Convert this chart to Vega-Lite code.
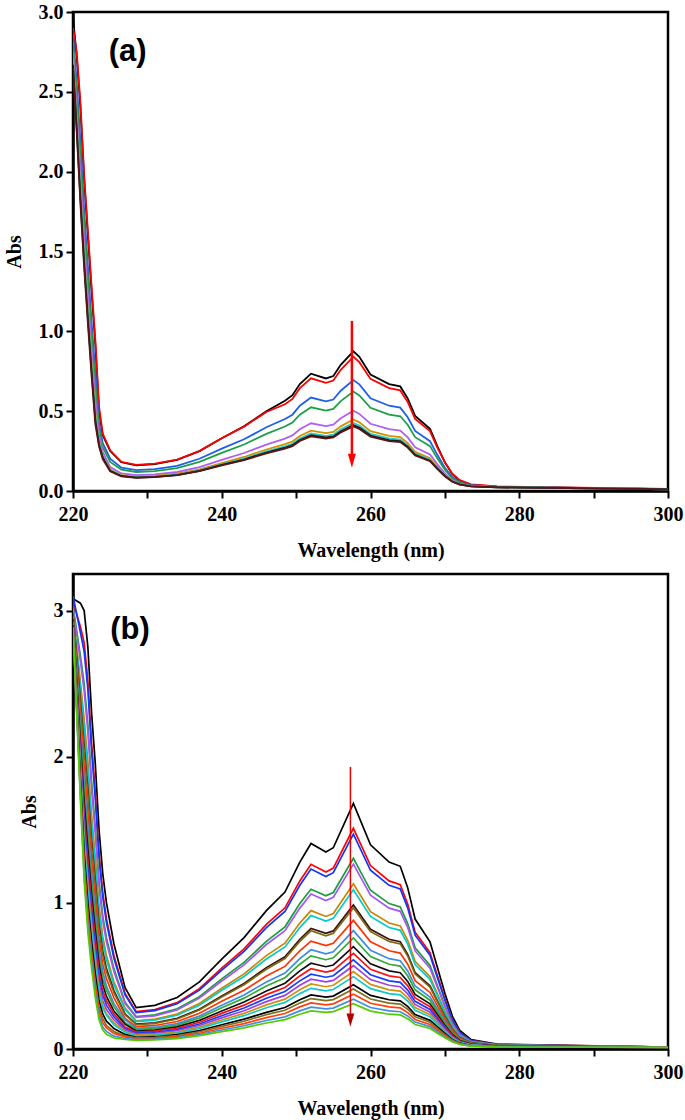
{"$schema":"https://vega.github.io/schema/vega-lite/v6.json",
"background":"white",
"padding":{"left":2,"top":0,"right":0,"bottom":0},
"spacing":10,
"resolve":{"scale":{"color":"independent"}},
"config":{"view":{"stroke":"black","strokeWidth":2.5},
"axis":{"grid":false,"domainColor":"black","domainWidth":2.5,"tickColor":"black","tickWidth":2,"tickSize":7,"labelFont":"Times New Roman, Liberation Serif, serif","labelFontSize":20,"labelFontWeight":"bold","labelColor":"black","titleFont":"Times New Roman, Liberation Serif, serif","titleFontSize":20,"titleFontWeight":"bold","titleColor":"black","labelPadding":3},
"axisX":{"labelPadding":6,"titlePadding":16},
"axisY":{"titlePadding":14}},
"datasets":{
"a":[
{"s":1,"w":220,"v":2.97},{"s":1,"w":220.5,"v":2.72},{"s":1,"w":221,"v":2.4},{"s":1,"w":221.5,"v":1.95},{"s":1,"w":222,"v":1.6},{"s":1,"w":222.5,"v":1.25},{"s":1,"w":223,"v":0.92},{"s":1,"w":223.5,"v":0.5},{"s":1,"w":224,"v":0.35},{"s":1,"w":225,"v":0.25},{"s":1,"w":226.5,"v":0.18},{"s":1,"w":228.5,"v":0.16},{"s":1,"w":231,"v":0.168},{"s":1,"w":234,"v":0.195},{"s":1,"w":237,"v":0.25},{"s":1,"w":240,"v":0.33},{"s":1,"w":243,"v":0.405},{"s":1,"w":246,"v":0.5},{"s":1,"w":248.5,"v":0.565},{"s":1,"w":249.5,"v":0.6},{"s":1,"w":250.5,"v":0.67},{"s":1,"w":252,"v":0.735},{"s":1,"w":254,"v":0.705},{"s":1,"w":255,"v":0.72},{"s":1,"w":256,"v":0.79},{"s":1,"w":257.7,"v":0.875},{"s":1,"w":258.5,"v":0.84},{"s":1,"w":260,"v":0.73},{"s":1,"w":262.5,"v":0.67},{"s":1,"w":264,"v":0.655},{"s":1,"w":265,"v":0.58},{"s":1,"w":266,"v":0.47},{"s":1,"w":268,"v":0.39},{"s":1,"w":269,"v":0.28},{"s":1,"w":270,"v":0.18},{"s":1,"w":271,"v":0.105},{"s":1,"w":272,"v":0.065},{"s":1,"w":273.5,"v":0.04},{"s":1,"w":277,"v":0.027},{"s":1,"w":300,"v":0.012},
{"s":2,"w":220,"v":2.9},{"s":2,"w":220.5,"v":2.75},{"s":2,"w":221,"v":2.43},{"s":2,"w":221.5,"v":1.98},{"s":2,"w":222,"v":1.63},{"s":2,"w":222.5,"v":1.28},{"s":2,"w":223,"v":0.95},{"s":2,"w":223.5,"v":0.53},{"s":2,"w":224,"v":0.36},{"s":2,"w":225,"v":0.255},{"s":2,"w":226.5,"v":0.183},{"s":2,"w":228.5,"v":0.164},{"s":2,"w":231,"v":0.171},{"s":2,"w":234,"v":0.197},{"s":2,"w":237,"v":0.25},{"s":2,"w":240,"v":0.33},{"s":2,"w":243,"v":0.403},{"s":2,"w":246,"v":0.495},{"s":2,"w":248.5,"v":0.543},{"s":2,"w":249.5,"v":0.577},{"s":2,"w":250.5,"v":0.644},{"s":2,"w":252,"v":0.706},{"s":2,"w":254,"v":0.678},{"s":2,"w":255,"v":0.692},{"s":2,"w":256,"v":0.759},{"s":2,"w":257.7,"v":0.841},{"s":2,"w":258.5,"v":0.807},{"s":2,"w":260,"v":0.702},{"s":2,"w":262.5,"v":0.644},{"s":2,"w":264,"v":0.63},{"s":2,"w":265,"v":0.558},{"s":2,"w":266,"v":0.452},{"s":2,"w":268,"v":0.375},{"s":2,"w":269,"v":0.27},{"s":2,"w":270,"v":0.18},{"s":2,"w":271,"v":0.108},{"s":2,"w":272,"v":0.068},{"s":2,"w":273.5,"v":0.042},{"s":2,"w":277,"v":0.029},{"s":2,"w":300,"v":0.013},
{"s":3,"w":220,"v":2.86},{"s":3,"w":220.5,"v":2.56},{"s":3,"w":221,"v":2.19},{"s":3,"w":221.5,"v":1.76},{"s":3,"w":222,"v":1.41},{"s":3,"w":222.5,"v":1.06},{"s":3,"w":223,"v":0.745},{"s":3,"w":223.5,"v":0.42},{"s":3,"w":224,"v":0.3},{"s":3,"w":225,"v":0.202},{"s":3,"w":226.5,"v":0.146},{"s":3,"w":228.5,"v":0.131},{"s":3,"w":231,"v":0.137},{"s":3,"w":234,"v":0.158},{"s":3,"w":237,"v":0.202},{"s":3,"w":240,"v":0.265},{"s":3,"w":243,"v":0.324},{"s":3,"w":246,"v":0.399},{"s":3,"w":248.5,"v":0.451},{"s":3,"w":249.5,"v":0.478},{"s":3,"w":250.5,"v":0.534},{"s":3,"w":252,"v":0.585},{"s":3,"w":254,"v":0.561},{"s":3,"w":255,"v":0.573},{"s":3,"w":256,"v":0.628},{"s":3,"w":257.7,"v":0.695},{"s":3,"w":258.5,"v":0.668},{"s":3,"w":260,"v":0.581},{"s":3,"w":262.5,"v":0.534},{"s":3,"w":264,"v":0.522},{"s":3,"w":265,"v":0.462},{"s":3,"w":266,"v":0.376},{"s":3,"w":268,"v":0.312},{"s":3,"w":269,"v":0.225},{"s":3,"w":270,"v":0.146},{"s":3,"w":271,"v":0.087},{"s":3,"w":272,"v":0.056},{"s":3,"w":273.5,"v":0.036},{"s":3,"w":277,"v":0.026},{"s":3,"w":300,"v":0.012},
{"s":4,"w":220,"v":2.81},{"s":4,"w":220.5,"v":2.49},{"s":4,"w":221,"v":2.1},{"s":4,"w":221.5,"v":1.68},{"s":4,"w":222,"v":1.33},{"s":4,"w":222.5,"v":0.99},{"s":4,"w":223,"v":0.67},{"s":4,"w":223.5,"v":0.39},{"s":4,"w":224,"v":0.275},{"s":4,"w":225,"v":0.182},{"s":4,"w":226.5,"v":0.133},{"s":4,"w":228.5,"v":0.119},{"s":4,"w":231,"v":0.124},{"s":4,"w":234,"v":0.143},{"s":4,"w":237,"v":0.182},{"s":4,"w":240,"v":0.239},{"s":4,"w":243,"v":0.291},{"s":4,"w":246,"v":0.358},{"s":4,"w":248.5,"v":0.404},{"s":4,"w":249.5,"v":0.429},{"s":4,"w":250.5,"v":0.478},{"s":4,"w":252,"v":0.524},{"s":4,"w":254,"v":0.503},{"s":4,"w":255,"v":0.514},{"s":4,"w":256,"v":0.563},{"s":4,"w":257.7,"v":0.623},{"s":4,"w":258.5,"v":0.598},{"s":4,"w":260,"v":0.521},{"s":4,"w":262.5,"v":0.478},{"s":4,"w":264,"v":0.468},{"s":4,"w":265,"v":0.415},{"s":4,"w":266,"v":0.337},{"s":4,"w":268,"v":0.281},{"s":4,"w":269,"v":0.203},{"s":4,"w":270,"v":0.133},{"s":4,"w":271,"v":0.08},{"s":4,"w":272,"v":0.052},{"s":4,"w":273.5,"v":0.034},{"s":4,"w":277,"v":0.025},{"s":4,"w":300,"v":0.012},
{"s":5,"w":220,"v":2.75},{"s":5,"w":220.5,"v":2.39},{"s":5,"w":221,"v":1.98},{"s":5,"w":221.5,"v":1.57},{"s":5,"w":222,"v":1.22},{"s":5,"w":222.5,"v":0.88},{"s":5,"w":223,"v":0.57},{"s":5,"w":223.5,"v":0.35},{"s":5,"w":224,"v":0.245},{"s":5,"w":225,"v":0.15},{"s":5,"w":226.5,"v":0.11},{"s":5,"w":228.5,"v":0.099},{"s":5,"w":231,"v":0.104},{"s":5,"w":234,"v":0.119},{"s":5,"w":237,"v":0.15},{"s":5,"w":240,"v":0.195},{"s":5,"w":243,"v":0.238},{"s":5,"w":246,"v":0.291},{"s":5,"w":248.5,"v":0.328},{"s":5,"w":249.5,"v":0.348},{"s":5,"w":250.5,"v":0.387},{"s":5,"w":252,"v":0.424},{"s":5,"w":254,"v":0.407},{"s":5,"w":255,"v":0.416},{"s":5,"w":256,"v":0.455},{"s":5,"w":257.7,"v":0.503},{"s":5,"w":258.5,"v":0.483},{"s":5,"w":260,"v":0.421},{"s":5,"w":262.5,"v":0.387},{"s":5,"w":264,"v":0.379},{"s":5,"w":265,"v":0.336},{"s":5,"w":266,"v":0.274},{"s":5,"w":268,"v":0.229},{"s":5,"w":269,"v":0.167},{"s":5,"w":270,"v":0.11},{"s":5,"w":271,"v":0.068},{"s":5,"w":272,"v":0.045},{"s":5,"w":273.5,"v":0.031},{"s":5,"w":277,"v":0.024},{"s":5,"w":300,"v":0.011},
{"s":6,"w":220,"v":2.7},{"s":6,"w":220.5,"v":2.32},{"s":6,"w":221,"v":1.89},{"s":6,"w":221.5,"v":1.48},{"s":6,"w":222,"v":1.13},{"s":6,"w":222.5,"v":0.8},{"s":6,"w":223,"v":0.495},{"s":6,"w":223.5,"v":0.31},{"s":6,"w":224,"v":0.22},{"s":6,"w":225,"v":0.135},{"s":6,"w":226.5,"v":0.1},{"s":6,"w":228.5,"v":0.09},{"s":6,"w":231,"v":0.094},{"s":6,"w":234,"v":0.108},{"s":6,"w":237,"v":0.135},{"s":6,"w":240,"v":0.175},{"s":6,"w":243,"v":0.213},{"s":6,"w":246,"v":0.26},{"s":6,"w":248.5,"v":0.293},{"s":6,"w":249.5,"v":0.31},{"s":6,"w":250.5,"v":0.345},{"s":6,"w":252,"v":0.378},{"s":6,"w":254,"v":0.363},{"s":6,"w":255,"v":0.37},{"s":6,"w":256,"v":0.405},{"s":6,"w":257.7,"v":0.448},{"s":6,"w":258.5,"v":0.43},{"s":6,"w":260,"v":0.375},{"s":6,"w":262.5,"v":0.345},{"s":6,"w":264,"v":0.338},{"s":6,"w":265,"v":0.3},{"s":6,"w":266,"v":0.245},{"s":6,"w":268,"v":0.205},{"s":6,"w":269,"v":0.15},{"s":6,"w":270,"v":0.1},{"s":6,"w":271,"v":0.063},{"s":6,"w":272,"v":0.043},{"s":6,"w":273.5,"v":0.03},{"s":6,"w":277,"v":0.024},{"s":6,"w":300,"v":0.011},
{"s":7,"w":220,"v":2.68},{"s":7,"w":220.5,"v":2.3},{"s":7,"w":221,"v":1.86},{"s":7,"w":221.5,"v":1.46},{"s":7,"w":222,"v":1.11},{"s":7,"w":222.5,"v":0.77},{"s":7,"w":223,"v":0.47},{"s":7,"w":223.5,"v":0.3},{"s":7,"w":224,"v":0.215},{"s":7,"w":225,"v":0.129},{"s":7,"w":226.5,"v":0.096},{"s":7,"w":228.5,"v":0.087},{"s":7,"w":231,"v":0.09},{"s":7,"w":234,"v":0.103},{"s":7,"w":237,"v":0.129},{"s":7,"w":240,"v":0.167},{"s":7,"w":243,"v":0.203},{"s":7,"w":246,"v":0.248},{"s":7,"w":248.5,"v":0.279},{"s":7,"w":249.5,"v":0.296},{"s":7,"w":250.5,"v":0.329},{"s":7,"w":252,"v":0.36},{"s":7,"w":254,"v":0.345},{"s":7,"w":255,"v":0.353},{"s":7,"w":256,"v":0.386},{"s":7,"w":257.7,"v":0.426},{"s":7,"w":258.5,"v":0.41},{"s":7,"w":260,"v":0.357},{"s":7,"w":262.5,"v":0.329},{"s":7,"w":264,"v":0.322},{"s":7,"w":265,"v":0.286},{"s":7,"w":266,"v":0.234},{"s":7,"w":268,"v":0.196},{"s":7,"w":269,"v":0.144},{"s":7,"w":270,"v":0.096},{"s":7,"w":271,"v":0.06},{"s":7,"w":272,"v":0.041},{"s":7,"w":273.5,"v":0.03},{"s":7,"w":277,"v":0.023},{"s":7,"w":300,"v":0.011},
{"s":8,"w":220,"v":2.67},{"s":8,"w":220.5,"v":2.27},{"s":8,"w":221,"v":1.83},{"s":8,"w":221.5,"v":1.43},{"s":8,"w":222,"v":1.08},{"s":8,"w":222.5,"v":0.75},{"s":8,"w":223,"v":0.445},{"s":8,"w":223.5,"v":0.29},{"s":8,"w":224,"v":0.21},{"s":8,"w":225,"v":0.126},{"s":8,"w":226.5,"v":0.094},{"s":8,"w":228.5,"v":0.084},{"s":8,"w":231,"v":0.088},{"s":8,"w":234,"v":0.1},{"s":8,"w":237,"v":0.126},{"s":8,"w":240,"v":0.163},{"s":8,"w":243,"v":0.197},{"s":8,"w":246,"v":0.241},{"s":8,"w":248.5,"v":0.271},{"s":8,"w":249.5,"v":0.287},{"s":8,"w":250.5,"v":0.319},{"s":8,"w":252,"v":0.349},{"s":8,"w":254,"v":0.335},{"s":8,"w":255,"v":0.342},{"s":8,"w":256,"v":0.374},{"s":8,"w":257.7,"v":0.413},{"s":8,"w":258.5,"v":0.397},{"s":8,"w":260,"v":0.347},{"s":8,"w":262.5,"v":0.319},{"s":8,"w":264,"v":0.312},{"s":8,"w":265,"v":0.278},{"s":8,"w":266,"v":0.227},{"s":8,"w":268,"v":0.19},{"s":8,"w":269,"v":0.14},{"s":8,"w":270,"v":0.094},{"s":8,"w":271,"v":0.059},{"s":8,"w":272,"v":0.041},{"s":8,"w":273.5,"v":0.029},{"s":8,"w":277,"v":0.023},{"s":8,"w":300,"v":0.01},
{"s":9,"w":220,"v":2.65},{"s":9,"w":220.5,"v":2.25},{"s":9,"w":221,"v":1.8},{"s":9,"w":221.5,"v":1.4},{"s":9,"w":222,"v":1.05},{"s":9,"w":222.5,"v":0.72},{"s":9,"w":223,"v":0.42},{"s":9,"w":223.5,"v":0.28},{"s":9,"w":224,"v":0.2},{"s":9,"w":225,"v":0.124},{"s":9,"w":226.5,"v":0.092},{"s":9,"w":228.5,"v":0.083},{"s":9,"w":231,"v":0.087},{"s":9,"w":234,"v":0.099},{"s":9,"w":237,"v":0.124},{"s":9,"w":240,"v":0.16},{"s":9,"w":243,"v":0.193},{"s":9,"w":246,"v":0.236},{"s":9,"w":248.5,"v":0.265},{"s":9,"w":249.5,"v":0.281},{"s":9,"w":250.5,"v":0.313},{"s":9,"w":252,"v":0.342},{"s":9,"w":254,"v":0.328},{"s":9,"w":255,"v":0.335},{"s":9,"w":256,"v":0.367},{"s":9,"w":257.7,"v":0.405},{"s":9,"w":258.5,"v":0.389},{"s":9,"w":260,"v":0.34},{"s":9,"w":262.5,"v":0.313},{"s":9,"w":264,"v":0.306},{"s":9,"w":265,"v":0.272},{"s":9,"w":266,"v":0.223},{"s":9,"w":268,"v":0.187},{"s":9,"w":269,"v":0.137},{"s":9,"w":270,"v":0.092},{"s":9,"w":271,"v":0.058},{"s":9,"w":272,"v":0.04},{"s":9,"w":273.5,"v":0.029},{"s":9,"w":277,"v":0.023},{"s":9,"w":300,"v":0.01}
],
"b":[
{"s":1,"w":220,"v":3.08},{"s":1,"w":221,"v":3.05},{"s":1,"w":221.5,"v":3.0},{"s":1,"w":222,"v":2.75},{"s":1,"w":222.5,"v":2.3},{"s":1,"w":223,"v":1.95},{"s":1,"w":223.5,"v":1.5},{"s":1,"w":224,"v":1.2},{"s":1,"w":224.5,"v":1.0},{"s":1,"w":225.5,"v":0.72},{"s":1,"w":227,"v":0.42},{"s":1,"w":228.5,"v":0.283},{"s":1,"w":231,"v":0.299},{"s":1,"w":234,"v":0.352},{"s":1,"w":237,"v":0.459},{"s":1,"w":240,"v":0.615},{"s":1,"w":243,"v":0.762},{"s":1,"w":246,"v":0.947},{"s":1,"w":248.5,"v":1.074},{"s":1,"w":250.5,"v":1.279},{"s":1,"w":252,"v":1.406},{"s":1,"w":254,"v":1.348},{"s":1,"w":255,"v":1.377},{"s":1,"w":257.7,"v":1.68},{"s":1,"w":260,"v":1.397},{"s":1,"w":262.5,"v":1.279},{"s":1,"w":264,"v":1.25},{"s":1,"w":265,"v":1.104},{"s":1,"w":266,"v":0.889},{"s":1,"w":268,"v":0.733},{"s":1,"w":269,"v":0.557},{"s":1,"w":270,"v":0.381},{"s":1,"w":271,"v":0.225},{"s":1,"w":272,"v":0.127},{"s":1,"w":273.5,"v":0.065},{"s":1,"w":277,"v":0.033},{"s":1,"w":300,"v":0.013},
{"s":2,"w":220,"v":3.06},{"s":2,"w":221,"v":2.89},{"s":2,"w":221.5,"v":2.78},{"s":2,"w":222,"v":2.52},{"s":2,"w":222.5,"v":2.09},{"s":2,"w":223,"v":1.76},{"s":2,"w":223.5,"v":1.34},{"s":2,"w":224,"v":1.07},{"s":2,"w":224.5,"v":0.89},{"s":2,"w":225.5,"v":0.64},{"s":2,"w":227,"v":0.38},{"s":2,"w":228.5,"v":0.256},{"s":2,"w":231,"v":0.27},{"s":2,"w":234,"v":0.317},{"s":2,"w":237,"v":0.413},{"s":2,"w":240,"v":0.554},{"s":2,"w":243,"v":0.685},{"s":2,"w":246,"v":0.852},{"s":2,"w":248.5,"v":0.966},{"s":2,"w":250.5,"v":1.15},{"s":2,"w":252,"v":1.264},{"s":2,"w":254,"v":1.211},{"s":2,"w":255,"v":1.238},{"s":2,"w":257.7,"v":1.51},{"s":2,"w":260,"v":1.255},{"s":2,"w":262.5,"v":1.15},{"s":2,"w":264,"v":1.124},{"s":2,"w":265,"v":0.992},{"s":2,"w":266,"v":0.799},{"s":2,"w":268,"v":0.659},{"s":2,"w":269,"v":0.501},{"s":2,"w":270,"v":0.343},{"s":2,"w":271,"v":0.203},{"s":2,"w":272,"v":0.115},{"s":2,"w":273.5,"v":0.059},{"s":2,"w":277,"v":0.031},{"s":2,"w":300,"v":0.013},
{"s":3,"w":220,"v":3.1},{"s":3,"w":221,"v":2.85},{"s":3,"w":221.5,"v":2.72},{"s":3,"w":222,"v":2.46},{"s":3,"w":222.5,"v":2.04},{"s":3,"w":223,"v":1.71},{"s":3,"w":223.5,"v":1.31},{"s":3,"w":224,"v":1.04},{"s":3,"w":224.5,"v":0.865},{"s":3,"w":225.5,"v":0.62},{"s":3,"w":227,"v":0.37},{"s":3,"w":228.5,"v":0.249},{"s":3,"w":231,"v":0.263},{"s":3,"w":234,"v":0.309},{"s":3,"w":237,"v":0.403},{"s":3,"w":240,"v":0.539},{"s":3,"w":243,"v":0.668},{"s":3,"w":246,"v":0.83},{"s":3,"w":248.5,"v":0.941},{"s":3,"w":250.5,"v":1.12},{"s":3,"w":252,"v":1.231},{"s":3,"w":254,"v":1.18},{"s":3,"w":255,"v":1.206},{"s":3,"w":257.7,"v":1.47},{"s":3,"w":260,"v":1.223},{"s":3,"w":262.5,"v":1.12},{"s":3,"w":264,"v":1.095},{"s":3,"w":265,"v":0.966},{"s":3,"w":266,"v":0.779},{"s":3,"w":268,"v":0.642},{"s":3,"w":269,"v":0.488},{"s":3,"w":270,"v":0.335},{"s":3,"w":271,"v":0.198},{"s":3,"w":272,"v":0.112},{"s":3,"w":273.5,"v":0.058},{"s":3,"w":277,"v":0.03},{"s":3,"w":300,"v":0.013},
{"s":4,"w":220,"v":3.03},{"s":4,"w":221,"v":2.69},{"s":4,"w":221.5,"v":2.5},{"s":4,"w":222,"v":2.22},{"s":4,"w":222.5,"v":1.83},{"s":4,"w":223,"v":1.52},{"s":4,"w":223.5,"v":1.15},{"s":4,"w":224,"v":0.91},{"s":4,"w":224.5,"v":0.76},{"s":4,"w":225.5,"v":0.55},{"s":4,"w":227,"v":0.32},{"s":4,"w":228.5,"v":0.222},{"s":4,"w":231,"v":0.234},{"s":4,"w":234,"v":0.275},{"s":4,"w":237,"v":0.358},{"s":4,"w":240,"v":0.48},{"s":4,"w":243,"v":0.593},{"s":4,"w":246,"v":0.737},{"s":4,"w":248.5,"v":0.836},{"s":4,"w":250.5,"v":0.995},{"s":4,"w":252,"v":1.093},{"s":4,"w":254,"v":1.048},{"s":4,"w":255,"v":1.071},{"s":4,"w":257.7,"v":1.305},{"s":4,"w":260,"v":1.086},{"s":4,"w":262.5,"v":0.995},{"s":4,"w":264,"v":0.972},{"s":4,"w":265,"v":0.858},{"s":4,"w":266,"v":0.692},{"s":4,"w":268,"v":0.571},{"s":4,"w":269,"v":0.434},{"s":4,"w":270,"v":0.298},{"s":4,"w":271,"v":0.177},{"s":4,"w":272,"v":0.101},{"s":4,"w":273.5,"v":0.052},{"s":4,"w":277,"v":0.028},{"s":4,"w":300,"v":0.013},
{"s":5,"w":220,"v":3.02},{"s":5,"w":221,"v":2.65},{"s":5,"w":221.5,"v":2.45},{"s":5,"w":222,"v":2.17},{"s":5,"w":222.5,"v":1.78},{"s":5,"w":223,"v":1.47},{"s":5,"w":223.5,"v":1.11},{"s":5,"w":224,"v":0.88},{"s":5,"w":224.5,"v":0.73},{"s":5,"w":225.5,"v":0.53},{"s":5,"w":227,"v":0.31},{"s":5,"w":228.5,"v":0.216},{"s":5,"w":231,"v":0.227},{"s":5,"w":234,"v":0.267},{"s":5,"w":237,"v":0.348},{"s":5,"w":240,"v":0.465},{"s":5,"w":243,"v":0.575},{"s":5,"w":246,"v":0.715},{"s":5,"w":248.5,"v":0.81},{"s":5,"w":250.5,"v":0.964},{"s":5,"w":252,"v":1.06},{"s":5,"w":254,"v":1.016},{"s":5,"w":255,"v":1.038},{"s":5,"w":257.7,"v":1.265},{"s":5,"w":260,"v":1.052},{"s":5,"w":262.5,"v":0.964},{"s":5,"w":264,"v":0.942},{"s":5,"w":265,"v":0.832},{"s":5,"w":266,"v":0.671},{"s":5,"w":268,"v":0.553},{"s":5,"w":269,"v":0.421},{"s":5,"w":270,"v":0.289},{"s":5,"w":271,"v":0.171},{"s":5,"w":272,"v":0.098},{"s":5,"w":273.5,"v":0.051},{"s":5,"w":277,"v":0.028},{"s":5,"w":300,"v":0.013},
{"s":6,"w":220,"v":3.0},{"s":6,"w":221,"v":2.51},{"s":6,"w":221.5,"v":2.26},{"s":6,"w":222,"v":1.97},{"s":6,"w":222.5,"v":1.6},{"s":6,"w":223,"v":1.31},{"s":6,"w":223.5,"v":0.98},{"s":6,"w":224,"v":0.77},{"s":6,"w":224.5,"v":0.64},{"s":6,"w":225.5,"v":0.46},{"s":6,"w":227,"v":0.28},{"s":6,"w":228.5,"v":0.193},{"s":6,"w":231,"v":0.204},{"s":6,"w":234,"v":0.239},{"s":6,"w":237,"v":0.311},{"s":6,"w":240,"v":0.416},{"s":6,"w":243,"v":0.514},{"s":6,"w":246,"v":0.639},{"s":6,"w":248.5,"v":0.724},{"s":6,"w":250.5,"v":0.862},{"s":6,"w":252,"v":0.947},{"s":6,"w":254,"v":0.907},{"s":6,"w":255,"v":0.927},{"s":6,"w":257.7,"v":1.13},{"s":6,"w":260,"v":0.94},{"s":6,"w":262.5,"v":0.862},{"s":6,"w":264,"v":0.842},{"s":6,"w":265,"v":0.744},{"s":6,"w":266,"v":0.6},{"s":6,"w":268,"v":0.495},{"s":6,"w":269,"v":0.377},{"s":6,"w":270,"v":0.259},{"s":6,"w":271,"v":0.154},{"s":6,"w":272,"v":0.089},{"s":6,"w":273.5,"v":0.047},{"s":6,"w":277,"v":0.026},{"s":6,"w":300,"v":0.012},
{"s":7,"w":220,"v":2.99},{"s":7,"w":221,"v":2.47},{"s":7,"w":221.5,"v":2.2},{"s":7,"w":222,"v":1.91},{"s":7,"w":222.5,"v":1.55},{"s":7,"w":223,"v":1.26},{"s":7,"w":223.5,"v":0.94},{"s":7,"w":224,"v":0.74},{"s":7,"w":224.5,"v":0.61},{"s":7,"w":225.5,"v":0.44},{"s":7,"w":227,"v":0.27},{"s":7,"w":228.5,"v":0.187},{"s":7,"w":231,"v":0.197},{"s":7,"w":234,"v":0.231},{"s":7,"w":237,"v":0.3},{"s":7,"w":240,"v":0.402},{"s":7,"w":243,"v":0.496},{"s":7,"w":246,"v":0.616},{"s":7,"w":248.5,"v":0.698},{"s":7,"w":250.5,"v":0.831},{"s":7,"w":252,"v":0.913},{"s":7,"w":254,"v":0.875},{"s":7,"w":255,"v":0.894},{"s":7,"w":257.7,"v":1.09},{"s":7,"w":260,"v":0.907},{"s":7,"w":262.5,"v":0.831},{"s":7,"w":264,"v":0.812},{"s":7,"w":265,"v":0.717},{"s":7,"w":266,"v":0.578},{"s":7,"w":268,"v":0.477},{"s":7,"w":269,"v":0.364},{"s":7,"w":270,"v":0.25},{"s":7,"w":271,"v":0.149},{"s":7,"w":272,"v":0.086},{"s":7,"w":273.5,"v":0.045},{"s":7,"w":277,"v":0.025},{"s":7,"w":300,"v":0.012},
{"s":8,"w":220,"v":2.98},{"s":8,"w":221,"v":2.38},{"s":8,"w":221.5,"v":2.08},{"s":8,"w":222,"v":1.78},{"s":8,"w":222.5,"v":1.43},{"s":8,"w":223,"v":1.15},{"s":8,"w":223.5,"v":0.85},{"s":8,"w":224,"v":0.67},{"s":8,"w":224.5,"v":0.55},{"s":8,"w":225.5,"v":0.4},{"s":8,"w":227,"v":0.24},{"s":8,"w":228.5,"v":0.17},{"s":8,"w":231,"v":0.179},{"s":8,"w":234,"v":0.21},{"s":8,"w":237,"v":0.272},{"s":8,"w":240,"v":0.363},{"s":8,"w":243,"v":0.449},{"s":8,"w":246,"v":0.557},{"s":8,"w":248.5,"v":0.631},{"s":8,"w":250.5,"v":0.751},{"s":8,"w":252,"v":0.825},{"s":8,"w":254,"v":0.791},{"s":8,"w":255,"v":0.808},{"s":8,"w":257.7,"v":0.985},{"s":8,"w":260,"v":0.819},{"s":8,"w":262.5,"v":0.751},{"s":8,"w":264,"v":0.734},{"s":8,"w":265,"v":0.648},{"s":8,"w":266,"v":0.523},{"s":8,"w":268,"v":0.432},{"s":8,"w":269,"v":0.329},{"s":8,"w":270,"v":0.227},{"s":8,"w":271,"v":0.135},{"s":8,"w":272,"v":0.078},{"s":8,"w":273.5,"v":0.042},{"s":8,"w":277,"v":0.024},{"s":8,"w":300,"v":0.012},
{"s":9,"w":220,"v":2.98},{"s":9,"w":221,"v":2.35},{"s":9,"w":221.5,"v":2.04},{"s":9,"w":222,"v":1.74},{"s":9,"w":222.5,"v":1.39},{"s":9,"w":223,"v":1.12},{"s":9,"w":223.5,"v":0.82},{"s":9,"w":224,"v":0.64},{"s":9,"w":224.5,"v":0.53},{"s":9,"w":225.5,"v":0.385},{"s":9,"w":227,"v":0.235},{"s":9,"w":228.5,"v":0.166},{"s":9,"w":231,"v":0.175},{"s":9,"w":234,"v":0.205},{"s":9,"w":237,"v":0.267},{"s":9,"w":240,"v":0.356},{"s":9,"w":243,"v":0.44},{"s":9,"w":246,"v":0.546},{"s":9,"w":248.5,"v":0.619},{"s":9,"w":250.5,"v":0.736},{"s":9,"w":252,"v":0.809},{"s":9,"w":254,"v":0.775},{"s":9,"w":255,"v":0.792},{"s":9,"w":257.7,"v":0.965},{"s":9,"w":260,"v":0.803},{"s":9,"w":262.5,"v":0.736},{"s":9,"w":264,"v":0.719},{"s":9,"w":265,"v":0.636},{"s":9,"w":266,"v":0.513},{"s":9,"w":268,"v":0.423},{"s":9,"w":269,"v":0.323},{"s":9,"w":270,"v":0.222},{"s":9,"w":271,"v":0.133},{"s":9,"w":272,"v":0.077},{"s":9,"w":273.5,"v":0.041},{"s":9,"w":277,"v":0.023},{"s":9,"w":300,"v":0.012},
{"s":10,"w":220,"v":2.96},{"s":10,"w":221,"v":2.27},{"s":10,"w":221.5,"v":1.93},{"s":10,"w":222,"v":1.62},{"s":10,"w":222.5,"v":1.29},{"s":10,"w":223,"v":1.02},{"s":10,"w":223.5,"v":0.75},{"s":10,"w":224,"v":0.58},{"s":10,"w":224.5,"v":0.48},{"s":10,"w":225.5,"v":0.35},{"s":10,"w":227,"v":0.21},{"s":10,"w":228.5,"v":0.153},{"s":10,"w":231,"v":0.161},{"s":10,"w":234,"v":0.188},{"s":10,"w":237,"v":0.244},{"s":10,"w":240,"v":0.326},{"s":10,"w":243,"v":0.402},{"s":10,"w":246,"v":0.499},{"s":10,"w":248.5,"v":0.565},{"s":10,"w":250.5,"v":0.672},{"s":10,"w":252,"v":0.738},{"s":10,"w":254,"v":0.707},{"s":10,"w":255,"v":0.723},{"s":10,"w":257.7,"v":0.88},{"s":10,"w":260,"v":0.733},{"s":10,"w":262.5,"v":0.672},{"s":10,"w":264,"v":0.656},{"s":10,"w":265,"v":0.58},{"s":10,"w":266,"v":0.468},{"s":10,"w":268,"v":0.387},{"s":10,"w":269,"v":0.295},{"s":10,"w":270,"v":0.203},{"s":10,"w":271,"v":0.122},{"s":10,"w":272,"v":0.071},{"s":10,"w":273.5,"v":0.039},{"s":10,"w":277,"v":0.022},{"s":10,"w":300,"v":0.012},
{"s":11,"w":220,"v":2.95},{"s":11,"w":221,"v":2.2},{"s":11,"w":221.5,"v":1.83},{"s":11,"w":222,"v":1.52},{"s":11,"w":222.5,"v":1.2},{"s":11,"w":223,"v":0.94},{"s":11,"w":223.5,"v":0.68},{"s":11,"w":224,"v":0.53},{"s":11,"w":224.5,"v":0.43},{"s":11,"w":225.5,"v":0.31},{"s":11,"w":227,"v":0.2},{"s":11,"w":228.5,"v":0.141},{"s":11,"w":231,"v":0.149},{"s":11,"w":234,"v":0.174},{"s":11,"w":237,"v":0.225},{"s":11,"w":240,"v":0.3},{"s":11,"w":243,"v":0.37},{"s":11,"w":246,"v":0.459},{"s":11,"w":248.5,"v":0.52},{"s":11,"w":250.5,"v":0.618},{"s":11,"w":252,"v":0.679},{"s":11,"w":254,"v":0.651},{"s":11,"w":255,"v":0.665},{"s":11,"w":257.7,"v":0.81},{"s":11,"w":260,"v":0.675},{"s":11,"w":262.5,"v":0.618},{"s":11,"w":264,"v":0.604},{"s":11,"w":265,"v":0.534},{"s":11,"w":266,"v":0.431},{"s":11,"w":268,"v":0.356},{"s":11,"w":269,"v":0.272},{"s":11,"w":270,"v":0.188},{"s":11,"w":271,"v":0.113},{"s":11,"w":272,"v":0.066},{"s":11,"w":273.5,"v":0.036},{"s":11,"w":277,"v":0.021},{"s":11,"w":300,"v":0.012},
{"s":12,"w":220,"v":2.95},{"s":12,"w":221,"v":2.15},{"s":12,"w":221.5,"v":1.76},{"s":12,"w":222,"v":1.44},{"s":12,"w":222.5,"v":1.13},{"s":12,"w":223,"v":0.88},{"s":12,"w":223.5,"v":0.63},{"s":12,"w":224,"v":0.48},{"s":12,"w":224.5,"v":0.4},{"s":12,"w":225.5,"v":0.29},{"s":12,"w":227,"v":0.18},{"s":12,"w":228.5,"v":0.133},{"s":12,"w":231,"v":0.14},{"s":12,"w":234,"v":0.163},{"s":12,"w":237,"v":0.212},{"s":12,"w":240,"v":0.282},{"s":12,"w":243,"v":0.348},{"s":12,"w":246,"v":0.431},{"s":12,"w":248.5,"v":0.488},{"s":12,"w":250.5,"v":0.58},{"s":12,"w":252,"v":0.637},{"s":12,"w":254,"v":0.611},{"s":12,"w":255,"v":0.624},{"s":12,"w":257.7,"v":0.76},{"s":12,"w":260,"v":0.633},{"s":12,"w":262.5,"v":0.58},{"s":12,"w":264,"v":0.567},{"s":12,"w":265,"v":0.501},{"s":12,"w":266,"v":0.405},{"s":12,"w":268,"v":0.334},{"s":12,"w":269,"v":0.256},{"s":12,"w":270,"v":0.177},{"s":12,"w":271,"v":0.106},{"s":12,"w":272,"v":0.063},{"s":12,"w":273.5,"v":0.035},{"s":12,"w":277,"v":0.021},{"s":12,"w":300,"v":0.012},
{"s":13,"w":220,"v":2.94},{"s":13,"w":221,"v":2.09},{"s":13,"w":221.5,"v":1.69},{"s":13,"w":222,"v":1.37},{"s":13,"w":222.5,"v":1.06},{"s":13,"w":223,"v":0.81},{"s":13,"w":223.5,"v":0.58},{"s":13,"w":224,"v":0.44},{"s":13,"w":224.5,"v":0.36},{"s":13,"w":225.5,"v":0.26},{"s":13,"w":227,"v":0.17},{"s":13,"w":228.5,"v":0.123},{"s":13,"w":231,"v":0.129},{"s":13,"w":234,"v":0.151},{"s":13,"w":237,"v":0.196},{"s":13,"w":240,"v":0.26},{"s":13,"w":243,"v":0.321},{"s":13,"w":246,"v":0.397},{"s":13,"w":248.5,"v":0.45},{"s":13,"w":250.5,"v":0.535},{"s":13,"w":252,"v":0.587},{"s":13,"w":254,"v":0.563},{"s":13,"w":255,"v":0.575},{"s":13,"w":257.7,"v":0.7},{"s":13,"w":260,"v":0.583},{"s":13,"w":262.5,"v":0.535},{"s":13,"w":264,"v":0.522},{"s":13,"w":265,"v":0.462},{"s":13,"w":266,"v":0.373},{"s":13,"w":268,"v":0.309},{"s":13,"w":269,"v":0.236},{"s":13,"w":270,"v":0.163},{"s":13,"w":271,"v":0.099},{"s":13,"w":272,"v":0.058},{"s":13,"w":273.5,"v":0.033},{"s":13,"w":277,"v":0.02},{"s":13,"w":300,"v":0.012},
{"s":14,"w":220,"v":2.93},{"s":14,"w":221,"v":2.04},{"s":14,"w":221.5,"v":1.61},{"s":14,"w":222,"v":1.29},{"s":14,"w":222.5,"v":0.99},{"s":14,"w":223,"v":0.75},{"s":14,"w":223.5,"v":0.53},{"s":14,"w":224,"v":0.4},{"s":14,"w":224.5,"v":0.33},{"s":14,"w":225.5,"v":0.24},{"s":14,"w":227,"v":0.15},{"s":14,"w":228.5,"v":0.116},{"s":14,"w":231,"v":0.122},{"s":14,"w":234,"v":0.142},{"s":14,"w":237,"v":0.183},{"s":14,"w":240,"v":0.244},{"s":14,"w":243,"v":0.3},{"s":14,"w":246,"v":0.372},{"s":14,"w":248.5,"v":0.421},{"s":14,"w":250.5,"v":0.5},{"s":14,"w":252,"v":0.549},{"s":14,"w":254,"v":0.526},{"s":14,"w":255,"v":0.538},{"s":14,"w":257.7,"v":0.655},{"s":14,"w":260,"v":0.545},{"s":14,"w":262.5,"v":0.5},{"s":14,"w":264,"v":0.489},{"s":14,"w":265,"v":0.432},{"s":14,"w":266,"v":0.349},{"s":14,"w":268,"v":0.289},{"s":14,"w":269,"v":0.221},{"s":14,"w":270,"v":0.153},{"s":14,"w":271,"v":0.093},{"s":14,"w":272,"v":0.055},{"s":14,"w":273.5,"v":0.031},{"s":14,"w":277,"v":0.019},{"s":14,"w":300,"v":0.012},
{"s":15,"w":220,"v":2.92},{"s":15,"w":221,"v":2.0},{"s":15,"w":221.5,"v":1.56},{"s":15,"w":222,"v":1.23},{"s":15,"w":222.5,"v":0.94},{"s":15,"w":223,"v":0.7},{"s":15,"w":223.5,"v":0.49},{"s":15,"w":224,"v":0.37},{"s":15,"w":224.5,"v":0.3},{"s":15,"w":225.5,"v":0.22},{"s":15,"w":227,"v":0.14},{"s":15,"w":228.5,"v":0.108},{"s":15,"w":231,"v":0.114},{"s":15,"w":234,"v":0.133},{"s":15,"w":237,"v":0.171},{"s":15,"w":240,"v":0.228},{"s":15,"w":243,"v":0.28},{"s":15,"w":246,"v":0.347},{"s":15,"w":248.5,"v":0.393},{"s":15,"w":250.5,"v":0.466},{"s":15,"w":252,"v":0.512},{"s":15,"w":254,"v":0.491},{"s":15,"w":255,"v":0.501},{"s":15,"w":257.7,"v":0.61},{"s":15,"w":260,"v":0.508},{"s":15,"w":262.5,"v":0.466},{"s":15,"w":264,"v":0.456},{"s":15,"w":265,"v":0.403},{"s":15,"w":266,"v":0.326},{"s":15,"w":268,"v":0.27},{"s":15,"w":269,"v":0.207},{"s":15,"w":270,"v":0.143},{"s":15,"w":271,"v":0.087},{"s":15,"w":272,"v":0.052},{"s":15,"w":273.5,"v":0.03},{"s":15,"w":277,"v":0.019},{"s":15,"w":300,"v":0.012},
{"s":16,"w":220,"v":2.92},{"s":16,"w":221,"v":1.96},{"s":16,"w":221.5,"v":1.5},{"s":16,"w":222,"v":1.17},{"s":16,"w":222.5,"v":0.88},{"s":16,"w":223,"v":0.65},{"s":16,"w":223.5,"v":0.45},{"s":16,"w":224,"v":0.33},{"s":16,"w":224.5,"v":0.27},{"s":16,"w":225.5,"v":0.2},{"s":16,"w":227,"v":0.13},{"s":16,"w":228.5,"v":0.102},{"s":16,"w":231,"v":0.107},{"s":16,"w":234,"v":0.125},{"s":16,"w":237,"v":0.161},{"s":16,"w":240,"v":0.213},{"s":16,"w":243,"v":0.262},{"s":16,"w":246,"v":0.324},{"s":16,"w":248.5,"v":0.367},{"s":16,"w":250.5,"v":0.436},{"s":16,"w":252,"v":0.478},{"s":16,"w":254,"v":0.459},{"s":16,"w":255,"v":0.469},{"s":16,"w":257.7,"v":0.57},{"s":16,"w":260,"v":0.475},{"s":16,"w":262.5,"v":0.436},{"s":16,"w":264,"v":0.426},{"s":16,"w":265,"v":0.377},{"s":16,"w":266,"v":0.305},{"s":16,"w":268,"v":0.252},{"s":16,"w":269,"v":0.193},{"s":16,"w":270,"v":0.134},{"s":16,"w":271,"v":0.082},{"s":16,"w":272,"v":0.049},{"s":16,"w":273.5,"v":0.028},{"s":16,"w":277,"v":0.018},{"s":16,"w":300,"v":0.012},
{"s":17,"w":220,"v":2.91},{"s":17,"w":221,"v":1.92},{"s":17,"w":221.5,"v":1.45},{"s":17,"w":222,"v":1.11},{"s":17,"w":222.5,"v":0.83},{"s":17,"w":223,"v":0.61},{"s":17,"w":223.5,"v":0.41},{"s":17,"w":224,"v":0.3},{"s":17,"w":224.5,"v":0.24},{"s":17,"w":225.5,"v":0.18},{"s":17,"w":227,"v":0.12},{"s":17,"w":228.5,"v":0.095},{"s":17,"w":231,"v":0.1},{"s":17,"w":234,"v":0.116},{"s":17,"w":237,"v":0.15},{"s":17,"w":240,"v":0.198},{"s":17,"w":243,"v":0.244},{"s":17,"w":246,"v":0.302},{"s":17,"w":248.5,"v":0.341},{"s":17,"w":250.5,"v":0.405},{"s":17,"w":252,"v":0.445},{"s":17,"w":254,"v":0.426},{"s":17,"w":255,"v":0.436},{"s":17,"w":257.7,"v":0.53},{"s":17,"w":260,"v":0.442},{"s":17,"w":262.5,"v":0.405},{"s":17,"w":264,"v":0.396},{"s":17,"w":265,"v":0.35},{"s":17,"w":266,"v":0.284},{"s":17,"w":268,"v":0.235},{"s":17,"w":269,"v":0.18},{"s":17,"w":270,"v":0.126},{"s":17,"w":271,"v":0.077},{"s":17,"w":272,"v":0.046},{"s":17,"w":273.5,"v":0.027},{"s":17,"w":277,"v":0.017},{"s":17,"w":300,"v":0.012},
{"s":18,"w":220,"v":2.91},{"s":18,"w":221,"v":1.89},{"s":18,"w":221.5,"v":1.41},{"s":18,"w":222,"v":1.07},{"s":18,"w":222.5,"v":0.8},{"s":18,"w":223,"v":0.57},{"s":18,"w":223.5,"v":0.38},{"s":18,"w":224,"v":0.28},{"s":18,"w":224.5,"v":0.23},{"s":18,"w":225.5,"v":0.165},{"s":18,"w":227,"v":0.115},{"s":18,"w":228.5,"v":0.089},{"s":18,"w":231,"v":0.094},{"s":18,"w":234,"v":0.109},{"s":18,"w":237,"v":0.14},{"s":18,"w":240,"v":0.186},{"s":18,"w":243,"v":0.228},{"s":18,"w":246,"v":0.282},{"s":18,"w":248.5,"v":0.319},{"s":18,"w":250.5,"v":0.379},{"s":18,"w":252,"v":0.415},{"s":18,"w":254,"v":0.398},{"s":18,"w":255,"v":0.407},{"s":18,"w":257.7,"v":0.495},{"s":18,"w":260,"v":0.413},{"s":18,"w":262.5,"v":0.379},{"s":18,"w":264,"v":0.37},{"s":18,"w":265,"v":0.328},{"s":18,"w":266,"v":0.265},{"s":18,"w":268,"v":0.22},{"s":18,"w":269,"v":0.169},{"s":18,"w":270,"v":0.118},{"s":18,"w":271,"v":0.072},{"s":18,"w":272,"v":0.044},{"s":18,"w":273.5,"v":0.026},{"s":18,"w":277,"v":0.017},{"s":18,"w":300,"v":0.012},
{"s":19,"w":220,"v":2.9},{"s":19,"w":221,"v":1.84},{"s":19,"w":221.5,"v":1.34},{"s":19,"w":222,"v":1.0},{"s":19,"w":222.5,"v":0.73},{"s":19,"w":223,"v":0.51},{"s":19,"w":223.5,"v":0.33},{"s":19,"w":224,"v":0.24},{"s":19,"w":224.5,"v":0.19},{"s":19,"w":225.5,"v":0.14},{"s":19,"w":227,"v":0.1},{"s":19,"w":228.5,"v":0.08},{"s":19,"w":231,"v":0.084},{"s":19,"w":234,"v":0.098},{"s":19,"w":237,"v":0.126},{"s":19,"w":240,"v":0.166},{"s":19,"w":243,"v":0.204},{"s":19,"w":246,"v":0.251},{"s":19,"w":248.5,"v":0.284},{"s":19,"w":250.5,"v":0.337},{"s":19,"w":252,"v":0.37},{"s":19,"w":254,"v":0.355},{"s":19,"w":255,"v":0.362},{"s":19,"w":257.7,"v":0.44},{"s":19,"w":260,"v":0.367},{"s":19,"w":262.5,"v":0.337},{"s":19,"w":264,"v":0.329},{"s":19,"w":265,"v":0.292},{"s":19,"w":266,"v":0.236},{"s":19,"w":268,"v":0.196},{"s":19,"w":269,"v":0.151},{"s":19,"w":270,"v":0.106},{"s":19,"w":271,"v":0.065},{"s":19,"w":272,"v":0.04},{"s":19,"w":273.5,"v":0.024},{"s":19,"w":277,"v":0.016},{"s":19,"w":300,"v":0.011},
{"s":20,"w":220,"v":2.89},{"s":20,"w":221,"v":1.79},{"s":20,"w":221.5,"v":1.28},{"s":20,"w":222,"v":0.94},{"s":20,"w":222.5,"v":0.67},{"s":20,"w":223,"v":0.46},{"s":20,"w":223.5,"v":0.29},{"s":20,"w":224,"v":0.21},{"s":20,"w":224.5,"v":0.16},{"s":20,"w":225.5,"v":0.12},{"s":20,"w":227,"v":0.09},{"s":20,"w":228.5,"v":0.076},{"s":20,"w":231,"v":0.079},{"s":20,"w":234,"v":0.092},{"s":20,"w":237,"v":0.118},{"s":20,"w":240,"v":0.155},{"s":20,"w":243,"v":0.19},{"s":20,"w":246,"v":0.235},{"s":20,"w":248.5,"v":0.265},{"s":20,"w":250.5,"v":0.314},{"s":20,"w":252,"v":0.345},{"s":20,"w":254,"v":0.331},{"s":20,"w":255,"v":0.338},{"s":20,"w":257.7,"v":0.41},{"s":20,"w":260,"v":0.342},{"s":20,"w":262.5,"v":0.314},{"s":20,"w":264,"v":0.307},{"s":20,"w":265,"v":0.272},{"s":20,"w":266,"v":0.221},{"s":20,"w":268,"v":0.183},{"s":20,"w":269,"v":0.141},{"s":20,"w":270,"v":0.099},{"s":20,"w":271,"v":0.061},{"s":20,"w":272,"v":0.038},{"s":20,"w":273.5,"v":0.023},{"s":20,"w":277,"v":0.016},{"s":20,"w":300,"v":0.011},
{"s":21,"w":220,"v":2.89},{"s":21,"w":221,"v":1.77},{"s":21,"w":221.5,"v":1.24},{"s":21,"w":222,"v":0.9},{"s":21,"w":222.5,"v":0.64},{"s":21,"w":223,"v":0.43},{"s":21,"w":223.5,"v":0.265},{"s":21,"w":224,"v":0.18},{"s":21,"w":224.5,"v":0.145},{"s":21,"w":225.5,"v":0.107},{"s":21,"w":227,"v":0.083},{"s":21,"w":228.5,"v":0.07},{"s":21,"w":231,"v":0.073},{"s":21,"w":234,"v":0.085},{"s":21,"w":237,"v":0.108},{"s":21,"w":240,"v":0.142},{"s":21,"w":243,"v":0.174},{"s":21,"w":246,"v":0.215},{"s":21,"w":248.5,"v":0.243},{"s":21,"w":250.5,"v":0.288},{"s":21,"w":252,"v":0.315},{"s":21,"w":254,"v":0.302},{"s":21,"w":255,"v":0.309},{"s":21,"w":257.7,"v":0.375},{"s":21,"w":260,"v":0.313},{"s":21,"w":262.5,"v":0.288},{"s":21,"w":264,"v":0.281},{"s":21,"w":265,"v":0.249},{"s":21,"w":266,"v":0.202},{"s":21,"w":268,"v":0.168},{"s":21,"w":269,"v":0.13},{"s":21,"w":270,"v":0.091},{"s":21,"w":271,"v":0.057},{"s":21,"w":272,"v":0.036},{"s":21,"w":273.5,"v":0.022},{"s":21,"w":277,"v":0.015},{"s":21,"w":300,"v":0.011},
{"s":22,"w":220,"v":2.88},{"s":22,"w":221,"v":1.73},{"s":22,"w":221.5,"v":1.19},{"s":22,"w":222,"v":0.84},{"s":22,"w":222.5,"v":0.59},{"s":22,"w":223,"v":0.38},{"s":22,"w":223.5,"v":0.23},{"s":22,"w":224,"v":0.15},{"s":22,"w":224.5,"v":0.12},{"s":22,"w":225.5,"v":0.088},{"s":22,"w":227,"v":0.072},{"s":22,"w":228.5,"v":0.064},{"s":22,"w":231,"v":0.067},{"s":22,"w":234,"v":0.078},{"s":22,"w":237,"v":0.099},{"s":22,"w":240,"v":0.13},{"s":22,"w":243,"v":0.159},{"s":22,"w":246,"v":0.195},{"s":22,"w":248.5,"v":0.22},{"s":22,"w":250.5,"v":0.261},{"s":22,"w":252,"v":0.286},{"s":22,"w":254,"v":0.274},{"s":22,"w":255,"v":0.28},{"s":22,"w":257.7,"v":0.34},{"s":22,"w":260,"v":0.284},{"s":22,"w":262.5,"v":0.261},{"s":22,"w":264,"v":0.255},{"s":22,"w":265,"v":0.226},{"s":22,"w":266,"v":0.184},{"s":22,"w":268,"v":0.153},{"s":22,"w":269,"v":0.118},{"s":22,"w":270,"v":0.083},{"s":22,"w":271,"v":0.052},{"s":22,"w":272,"v":0.033},{"s":22,"w":273.5,"v":0.021},{"s":22,"w":277,"v":0.015},{"s":22,"w":300,"v":0.011},
{"s":23,"w":220,"v":2.88},{"s":23,"w":221,"v":1.7},{"s":23,"w":221.5,"v":1.15},{"s":23,"w":222,"v":0.8},{"s":23,"w":222.5,"v":0.55},{"s":23,"w":223,"v":0.35},{"s":23,"w":223.5,"v":0.2},{"s":23,"w":224,"v":0.13},{"s":23,"w":224.5,"v":0.1},{"s":23,"w":225.5,"v":0.075},{"s":23,"w":227,"v":0.065},{"s":23,"w":228.5,"v":0.059},{"s":23,"w":231,"v":0.062},{"s":23,"w":234,"v":0.071},{"s":23,"w":237,"v":0.091},{"s":23,"w":240,"v":0.119},{"s":23,"w":243,"v":0.145},{"s":23,"w":246,"v":0.178},{"s":23,"w":248.5,"v":0.201},{"s":23,"w":250.5,"v":0.238},{"s":23,"w":252,"v":0.261},{"s":23,"w":254,"v":0.25},{"s":23,"w":255,"v":0.256},{"s":23,"w":257.7,"v":0.31},{"s":23,"w":260,"v":0.259},{"s":23,"w":262.5,"v":0.238},{"s":23,"w":264,"v":0.233},{"s":23,"w":265,"v":0.207},{"s":23,"w":266,"v":0.168},{"s":23,"w":268,"v":0.14},{"s":23,"w":269,"v":0.108},{"s":23,"w":270,"v":0.077},{"s":23,"w":271,"v":0.049},{"s":23,"w":272,"v":0.031},{"s":23,"w":273.5,"v":0.02},{"s":23,"w":277,"v":0.014},{"s":23,"w":300,"v":0.011}
]},
"vconcat":[
{"width":595,"height":479,
"layer":[
{"data":{"name":"a"},"mark":{"type":"line","strokeWidth":1.8,"clip":true},
"encoding":{
"x":{"field":"w","type":"quantitative","scale":{"domain":[220,300],"nice":false,"zero":false},"axis":{"title":"Wavelength (nm)","values":[220,230,240,250,260,270,280,290,300],"labelExpr":"datum.value % 20 == 0 ? datum.label : ''","labelFlush":false,"labelOverlap":false}},
"y":{"field":"v","type":"quantitative","scale":{"domain":[0,3],"nice":false,"zero":true},"axis":{"title":"Abs","values":[0,0.25,0.5,0.75,1,1.25,1.5,1.75,2,2.25,2.5,2.75,3],"format":".1f","labelExpr":"(datum.value*2)%1 == 0 ? datum.label : ''","labelOverlap":false}},
"color":{"field":"s","type":"nominal","scale":{"domain":[1,2,3,4,5,6,7,8,9],"range":["#000000","#ff0000","#1f5fe8","#1e9e48","#b060f0","#d09000","#22cccc","#1a1a1a","#5a1414"]},"legend":null}}},
{"data":{"values":[{"w":257.5,"v":1.065,"v2":0.2}]},"mark":{"type":"rule","color":"#ff0000","strokeWidth":2.5},
"encoding":{"x":{"field":"w","type":"quantitative"},"y":{"field":"v","type":"quantitative"},"y2":{"field":"v2"}}},
{"data":{"values":[{"w":257.5,"v":0.19}]},"mark":{"type":"point","shape":"M-0.57,-1L0.57,-1L0,1Z","size":196,"filled":true,"color":"#ff0000","opacity":1},
"encoding":{"x":{"field":"w","type":"quantitative"},"y":{"field":"v","type":"quantitative"}}},
{"data":{"values":[{"w":224.8,"v":2.75,"t":"(a)"}]},"mark":{"type":"text","font":"Liberation Sans","fontSize":31,"fontWeight":"bold","align":"left","baseline":"middle","color":"black"},
"encoding":{"x":{"field":"w","type":"quantitative"},"y":{"field":"v","type":"quantitative"},"text":{"field":"t"}}}
]},
{"width":595,"height":475,
"layer":[
{"data":{"name":"b"},"mark":{"type":"line","strokeWidth":1.7,"clip":true},
"encoding":{
"x":{"field":"w","type":"quantitative","scale":{"domain":[220,300],"nice":false,"zero":false},"axis":{"title":"Wavelength (nm)","values":[220,230,240,250,260,270,280,290,300],"labelExpr":"datum.value % 20 == 0 ? datum.label : ''","labelFlush":false,"labelOverlap":false}},
"y":{"field":"v","type":"quantitative","scale":{"domain":[0,3.25],"nice":false,"zero":true},"axis":{"title":"Abs","values":[0,0.5,1,1.5,2,2.5,3],"format":"d","labelExpr":"datum.value%1 == 0 ? datum.label : ''","labelOverlap":false}},
"color":{"field":"s","type":"nominal","scale":{"domain":[1,2,3,4,5,6,7,8,9,10,11,12,13,14,15,16,17,18,19,20,21,22,23],"range":["#000000","#ff0000","#1034ff","#1a9e3a","#a855f7","#cc8400","#00cccc","#3d1010","#7a6a10","#ff3300","#3c8ce0","#33aa33","#101010","#ff1010","#1040ff","#a040e0","#d09010","#10c8c8","#000000","#807020","#ff4010","#4090e0","#55cc00"]},"legend":null}}},
{"data":{"values":[{"w":257.3,"v":1.93,"v2":0.2}]},"mark":{"type":"rule","color":"#e80000","strokeWidth":1.5},
"encoding":{"x":{"field":"w","type":"quantitative"},"y":{"field":"v","type":"quantitative"},"y2":{"field":"v2"}}},
{"data":{"values":[{"w":257.3,"v":0.198}]},"mark":{"type":"point","shape":"M-0.6,-1L0.6,-1L0,1Z","size":169,"filled":true,"color":"#b00000","opacity":1},
"encoding":{"x":{"field":"w","type":"quantitative"},"y":{"field":"v","type":"quantitative"}}},
{"data":{"values":[{"w":225,"v":2.87,"t":"(b)"}]},"mark":{"type":"text","font":"Liberation Sans","fontSize":31,"fontWeight":"bold","align":"left","baseline":"middle","color":"black"},
"encoding":{"x":{"field":"w","type":"quantitative"},"y":{"field":"v","type":"quantitative"},"text":{"field":"t"}}}
]}
]}
